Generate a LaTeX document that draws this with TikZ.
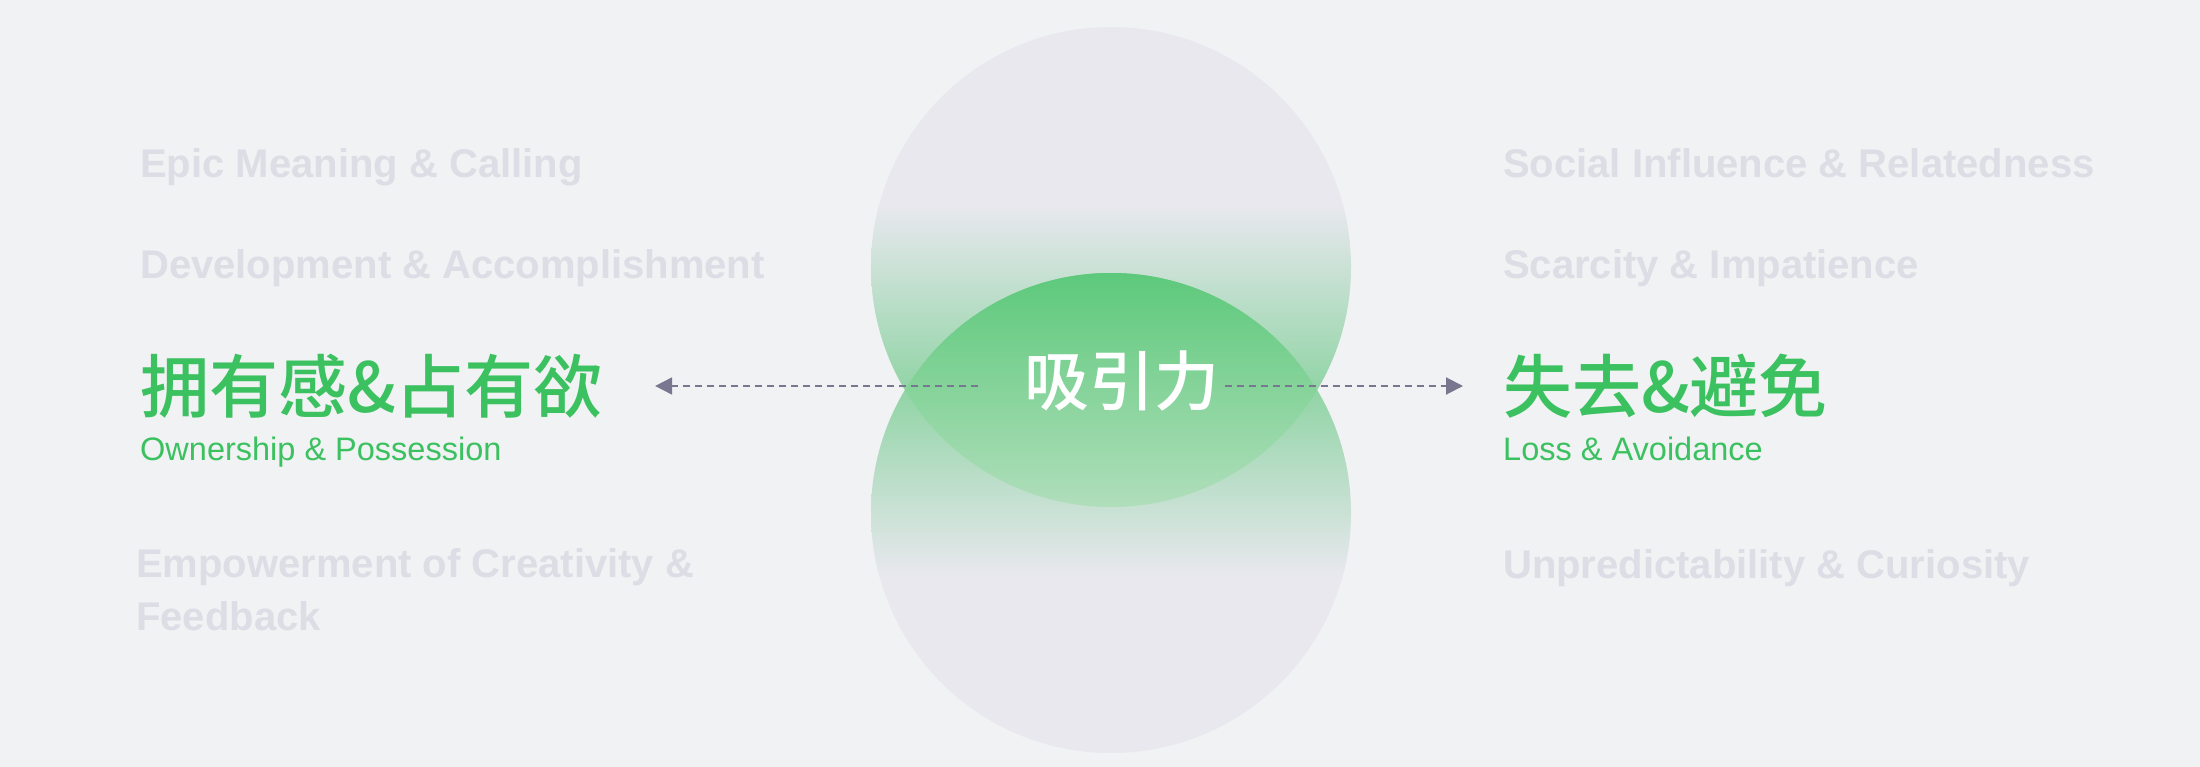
\documentclass[tikz,border=0pt]{standalone}
\usepackage{fontspec}
\setmainfont{Liberation Sans}
\newfontfamily\cjk{Noto Sans CJK SC}[UprightFont=* Medium,BoldFont=* Bold]
\usetikzlibrary{arrows.meta}
\definecolor{bgc}{HTML}{F1F2F4}
\definecolor{ballc}{HTML}{E8E8EE}
\definecolor{greenc}{HTML}{5AC878}
\definecolor{lenstop}{HTML}{5DC97B}
\definecolor{lensbot}{HTML}{B0DEBB}
\definecolor{fadec}{HTML}{DCDDE5}
\definecolor{textc}{HTML}{3CC160}
\definecolor{linkc}{HTML}{77778F}

\begin{document}
\begin{tikzpicture}[x=1pt,y=-1pt,
	fade/.style={anchor=base west,inner sep=0,text=fadec,align=left,font=\fontsize{40}{53}\selectfont\bfseries},
	title/.style={inner sep=0,text=textc,font=\cjk\fontsize{69}{69}\selectfont},
	sub/.style={anchor=base west,inner sep=0,text=textc,font=\fontsize{32.5}{36}\selectfont},
	link/.style={draw=linkc,line width=2pt,dash pattern=on 7pt off 5pt,-{Triangle[length=17pt,width=17pt]}}]
		\fill[bgc] (0,0) rectangle (2200,767);

		\begin{scope}
			\clip (1111,267) circle (240pt);
			\fill[ballc] (871,27) rectangle (1351,507);
			\shade[top color=ballc,bottom color=greenc] (871,205) rectangle (1351,507);
		\end{scope}
		\begin{scope}
			\clip (1111,513) circle (240pt);
			\fill[ballc] (871,273) rectangle (1351,753);
			\shade[top color=greenc,bottom color=ballc] (871,273) rectangle (1351,575);
		\end{scope}
		\begin{scope}
			\clip (1111,267) circle (240pt);
			\clip (1111,513) circle (240pt);
			\shade[top color=lenstop,bottom color=lensbot] (871,273) rectangle (1351,507);
		\end{scope}

		\node[fade] (epic) at (140,178) {Epic Meaning \& Calling};
		\node[fade] (dev) at (140,279) {Development \& Accomplishment};
		\node[title,anchor=west] (own) at (140,386) {拥有感\&占有欲};
		\node[sub] (ownsub) at (140,460) {Ownership \& Possession};
		\node[fade] (emp) at (136,630) {Empowerment of Creativity \&\\Feedback};

		\node[fade] (social) at (1503,178) {Social Influence \& Relatedness};
		\node[fade] (scarce) at (1503,279) {Scarcity \& Impatience};
		\node[title,anchor=west] (loss) at (1503,386) {失去\&避免};
		\node[sub] (losssub) at (1503,460) {Loss \& Avoidance};
		\node[fade] (unpred) at (1503,578) {Unpredictability \& Curiosity};

		\node[inner sep=0,text=white,font=\cjk\fontsize{65}{65}\selectfont] (attract) at (1122,381) {吸引力};

		\draw[link,shorten <=46pt,shorten >=52pt] (attract.west |- own.east) -- (own.east);
		\draw[link,shorten <=5pt,shorten >=40pt] (attract.east |- loss.west) -- (loss.west);
	\end{tikzpicture}
\end{document}
